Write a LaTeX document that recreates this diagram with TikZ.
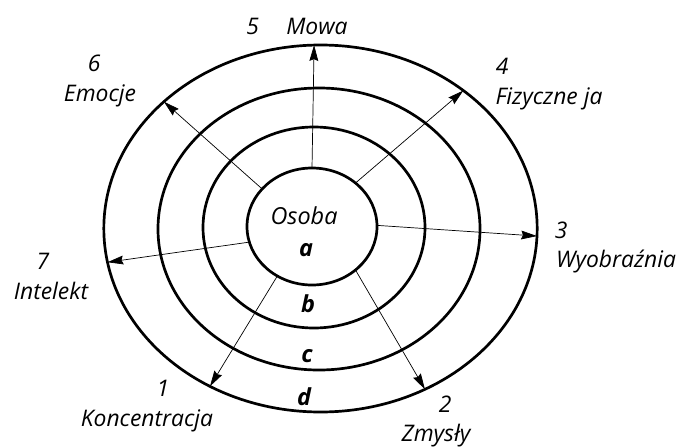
\documentclass[tikz,border=0pt]{standalone}
\usepackage{fontspec}
\setsansfont{Open Sans}
\usepackage{tikz}
\usetikzlibrary{
  shapes.geometric,
  arrows.meta
}
\tikzset{
  ring/.style={
    ellipse, draw=black, line width=2.3pt, inner sep=0pt, outer sep=0pt,
    minimum width=#1
  },
  spoke/.style={-{Stealth[length=13.5pt, width=7.5pt, inset=1.5pt]}, line width=0.6pt},
  lbl/.style={font=\fontsize{19.5}{23.4}\selectfont\sffamily\itshape, inner sep=0pt, align=center},
  zone/.style={font=\fontsize{20}{24}\selectfont\sffamily\itshape\bfseries, inner sep=0pt},
}

\begin{document}
\begin{tikzpicture}[x=0.03cm, y=-0.03cm]

\useasboundingbox (0,0) rectangle (679,447);

% Rings
\node[ring=13cm, minimum height=11.01cm] (d) at (320.5,228.5) {};
\node[ring=9.66cm, minimum height=8.46cm] (c) at (319,229) {};
\node[ring=6.66cm, minimum height=6.03cm] (b) at (314,227.5) {};
\node[ring=3.9cm, minimum height=3.51cm] (osoba) at (312,226.5) {};

% Ring letters
\node[lbl, font=\fontsize{20}{24}\selectfont\sffamily\itshape] (osobatxt) at (304,216) {Osoba};
\node[zone] (za) at (306,250) {a};
\node[zone] (zb) at (308,304) {b};
\node[zone] (zc) at (307,356) {c};
\node[zone] (zd) at (304,397) {d};

% Spokes
\draw[spoke] (osoba.90) -- (d.92.3);
\draw[spoke] (osoba.45) -- (d.44);
\draw[spoke] (osoba.1) -- (d.-2.5);
\draw[spoke] (osoba.-45) -- (d.-57);
\draw[spoke] (osoba.235) -- (d.235);
\draw[spoke] (osoba.194) -- (d.189);
\draw[spoke] (osoba.143) -- (d.141);

% Labels
\node[lbl] (l5) at (297,26) {5\hspace{1.2em}Mowa};
\node[lbl] (l4) at (549,84) {\hspace*{-4.1em}4\\[2pt]Fizyczne ja};
\node[lbl] (l3) at (616,247.5) {\hspace*{-4.8em}3\\[2pt]Wyobraźnia};
\node[lbl] (l2) at (436,421.5) {\hspace*{0.8em}2\\[2pt]Zmysły};
\node[lbl] (l1) at (147,406) {\hspace*{1.4em}1\\[2pt]Koncentracja};
\node[lbl] (l7) at (51,276.5) {\hspace*{-0.7em}7\\[2pt]Intelekt};
\node[lbl] (l6) at (100,81) {\hspace*{-0.5em}6\\[2pt]Emocje};

\end{tikzpicture}
\end{document}
